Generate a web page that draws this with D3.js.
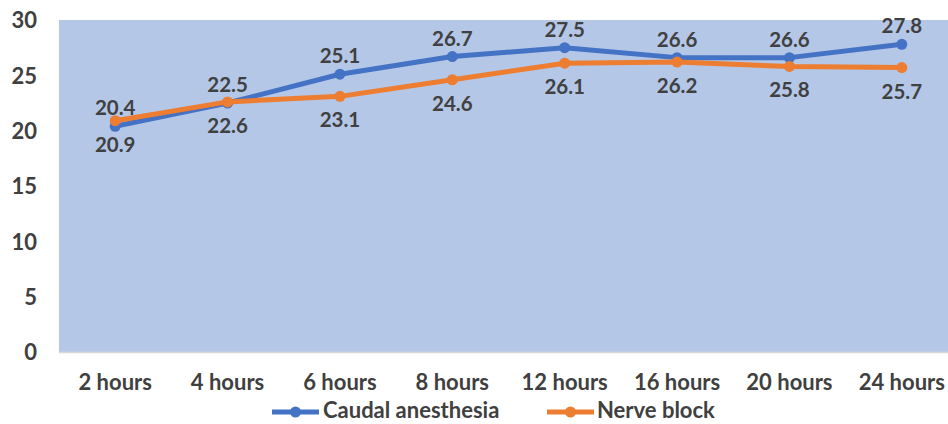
<!DOCTYPE html>
<html><head><meta charset="utf-8">
<script src="https://cdn.jsdelivr.net/npm/d3@7"></script>
<style>
html,body{margin:0;padding:0;background:#fff;}
svg text{font-family:Lato,"Open Sans",sans-serif;font-weight:700;fill:#404040;}
</style></head>
<body>
<svg id="chart" width="948" height="424"></svg>
<script>
const categories = ["2 hours","4 hours","6 hours","8 hours","12 hours","16 hours","20 hours","24 hours"];
const caudal = [20.4, 22.5, 25.1, 26.7, 27.5, 26.6, 26.6, 27.8];
const nerve = [20.9, 22.6, 23.1, 24.6, 26.1, 26.2, 25.8, 25.7];
const yTicks = [0, 5, 10, 15, 20, 25, 30];
const seriesNames = ["Caudal anesthesia", "Nerve block"];

const W = 948, H = 424;
const plot = {left: 59, right: 958, top: 20, bottom: 352};
const svg = d3.select("#chart");

const x = d3.scaleBand().domain(categories).range([plot.left, plot.right]);
const y = d3.scaleLinear().domain([0, 30]).range([plot.bottom, plot.top]);
const cx = d => x(d) + x.bandwidth() / 2;

svg.append("defs").append("clipPath").attr("id", "clip")
  .append("rect").attr("x", 0).attr("y", 0).attr("width", W).attr("height", H);

const g = svg.append("g").attr("clip-path", "url(#clip)");

g.append("rect").attr("x", plot.left).attr("y", plot.top)
  .attr("width", plot.right - plot.left).attr("height", plot.bottom - plot.top)
  .attr("fill", "#B4C7E7");

g.append("line").attr("x1", plot.left).attr("x2", plot.right)
  .attr("y1", plot.bottom + 0.5).attr("y2", plot.bottom + 0.5)
  .attr("stroke", "#D9D9D9").attr("stroke-width", 1.5);

// y axis labels
const yAxis = d3.axisLeft(y).tickValues(yTicks).tickSize(0).tickPadding(0);
const ya = svg.append("g").attr("transform", "translate(37,0)").call(yAxis);
ya.select(".domain").remove();
ya.selectAll("text").attr("font-size", 22).attr("dy", "0.35em").style("font-family", "Lato").style("font-weight", 700).attr("fill", "#404040");

// x axis labels
const xAxis = d3.axisBottom(x).tickSize(0).tickPadding(0);
const xa = svg.append("g").attr("transform", "translate(0,390)").call(xAxis);
xa.select(".domain").remove();
xa.selectAll("text").attr("font-size", 22).attr("dy", 0).style("font-family", "Lato").style("font-weight", 700).attr("fill", "#404040");

const series = [
  {name: seriesNames[0], values: caudal, color: "#4472C4", labelDy: -11},
  {name: seriesNames[1], values: nerve, color: "#ED7D31", labelDy: 31}
];

const line = d3.line().x((d, i) => cx(categories[i])).y(d => y(d));

series.forEach(s => {
  g.append("path").datum(s.values).attr("d", line)
    .attr("fill", "none").attr("stroke", s.color).attr("stroke-width", 5)
    .attr("stroke-linejoin", "round").attr("stroke-linecap", "round");
  g.selectAll(null).data(s.values).enter().append("circle")
    .attr("cx", (d, i) => cx(categories[i])).attr("cy", d => y(d))
    .attr("r", 5.5).attr("fill", s.color);
});

series.forEach(s => {
  g.selectAll(null).data(s.values).enter().append("text")
    .attr("x", (d, i) => cx(categories[i])).attr("y", d => y(d) + s.labelDy)
    .attr("text-anchor", "middle").attr("font-size", 20.5)
    .text(d => d.toFixed(1));
});

// legend
const legend = [{x: 272, tx: 323}, {x: 547, tx: 597}];
series.forEach((s, i) => {
  const lg = svg.append("g");
  lg.append("line").attr("x1", legend[i].x).attr("x2", legend[i].x + 47)
    .attr("y1", 412).attr("y2", 412).attr("stroke", s.color).attr("stroke-width", 5);
  lg.append("circle").attr("cx", legend[i].x + 23.5).attr("cy", 412).attr("r", 5.5).attr("fill", s.color);
  lg.append("text").attr("x", legend[i].tx).attr("y", 418).attr("font-size", 22).text(s.name);
});
</script>
</body></html>
